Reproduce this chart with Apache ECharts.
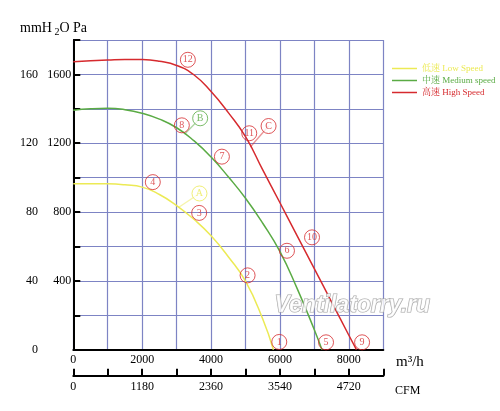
<!DOCTYPE html>
<html>
<head>
<meta charset="utf-8">
<script src="https://cdn.jsdelivr.net/npm/echarts@6/dist/echarts.min.js"></script>
<style>
  html, body { margin: 0; padding: 0; background: #fff; }
  #chart { width: 500px; height: 411px; }
</style>
</head>
<body>
<div id="chart"></div>
<script>
// flow m3/h and pressure Pa
const lowFlow = [0, 500, 1000, 1500, 2000, 2500, 3000, 3500, 4000, 4500, 5000, 5500, 5810];
const lowPa = [964, 965, 964, 958, 945, 902, 838, 758, 662, 540, 398, 178, 0];
const midFlow = [0, 500, 1000, 1500, 2000, 2500, 3000, 3500, 4000, 4500, 5000, 5500, 6000, 6500, 7000, 7220];
const midPa = [1392, 1400, 1403, 1395, 1374, 1340, 1290, 1215, 1120, 1005, 880, 735, 570, 355, 115, 0];
const highFlow = [0, 500, 1000, 1500, 2000, 2500, 3000, 3500, 4000, 4500, 5000, 5500, 6000, 6500, 7000, 7500, 8000, 8220];
const highPa = [1673, 1680, 1684, 1687, 1686, 1676, 1652, 1598, 1500, 1378, 1238, 1045, 854, 662, 470, 277, 84, 0];

// circled point markers
const markNames = ['1', '2', '3', '4', '5', '6', '7', '8', '9', '10', '11', '12'];
const markFlow = [5980, 5060, 3654, 2308, 7337, 6203, 4314, 3151, 8384, 6930, 5108, 3326];
const markPa = [45, 432, 795, 974, 43, 575, 1122, 1304, 43, 653, 1258, 1685];

// lettered curve tags and where their leader touches the curve
const tagNames = ['A', 'B', 'C'];
const tagFlow = [3663, 3683, 5669];
const tagPa = [908, 1345, 1300];
const tagEndFlow = [3052, 3230, 5140];
const tagEndPa = [826, 1252, 1178];

const xTicks = [0, 2000, 4000, 6000, 8000];
const cfmTicks = [0, 1180, 2360, 3540, 4720];

const RED = '#d62a2e';
const GREEN = '#5aab44';
const YELLOW = '#ecea55';
const BLUE = '#7d84c4';
const SERIF = '"Liberation Serif", "Noto Serif CJK SC", "Noto Sans CJK SC", serif';
const tagColors = [YELLOW, GREEN, RED];

const pairs = (xs, ys) => xs.map((x, i) => [x, ys[i]]);

const chart = echarts.init(document.getElementById('chart'));

const curve = (name, color, xs, ys) => ({
  name: name,
  type: 'line',
  smooth: 0.5,
  showSymbol: false,
  silent: true,
  data: pairs(xs, ys),
  lineStyle: { color: color, width: 1.5 },
  itemStyle: { color: color },
  z: 3
})

const option = {
  animation: false,
  backgroundColor: '#fff',
  grid: { left: 73.3, top: 40, right: 116.7, bottom: 61.3 },
  legend: {
    orient: 'vertical',
    left: 387,
    top: 59,
    itemWidth: 25,
    itemHeight: 1.5,
    itemGap: 3,
    icon: 'rect',
    textStyle: { fontFamily: SERIF, fontSize: 9 },
    data: [
      { name: '低速 Low Speed', textStyle: { color: YELLOW } },
      { name: '中速 Medium speed', textStyle: { color: GREEN } },
      { name: '高速 High Speed', textStyle: { color: RED } }
    ]
  },
  xAxis: [
    {
      type: 'value', min: 0, max: 9000, interval: 1000,
      axisLine: { lineStyle: { color: '#000', width: 2 } },
      axisTick: { show: false },
      axisLabel: {
        color: '#000', fontFamily: SERIF, fontSize: 12, margin: 4,
        formatter: v => xTicks.includes(v) ? String(v) : ''
      },
      splitLine: { show: true, lineStyle: { color: BLUE, width: 1.2 } }
    },
    {
      type: 'value', position: 'bottom', offset: 26, min: 0, max: 5310, interval: 590,
      axisLine: { onZero: false, lineStyle: { color: '#000', width: 2 } },
      axisTick: { show: true, inside: true, length: 7, lineStyle: { color: '#000', width: 2 } },
      axisLabel: {
        color: '#000', fontFamily: SERIF, fontSize: 12, margin: 5,
        formatter: v => cfmTicks.includes(v) ? String(v) : ''
      },
      splitLine: { show: false }
    }
  ],
  yAxis: [
    {
      type: 'value', min: 0, max: 1800, interval: 200,
      axisLine: { show: true, lineStyle: { color: '#000', width: 2 } },
      axisTick: { show: false },
      axisLabel: {
        color: '#000', fontFamily: SERIF, fontSize: 12, margin: 2,
        formatter: v => (v > 0 && v < 1800 && v % 400 === 0) ? String(v) : ''
      },
      splitLine: { show: true, lineStyle: { color: BLUE, width: 1.2 } }
    },
    {
      type: 'value', position: 'left', offset: 31.3, min: 0, max: 180, interval: 20,
      axisLine: { show: true, lineStyle: { color: '#000', width: 2 } },
      axisTick: { show: true, inside: true, length: 7, lineStyle: { color: '#000', width: 2 } },
      axisLabel: {
        color: '#000', fontFamily: SERIF, fontSize: 12, margin: 4,
        formatter: v => (v % 40 === 0 && v < 180) ? String(v) : ''
      },
      splitLine: { show: false }
    }
  ],
  series: [
    curve('低速 Low Speed', YELLOW, lowFlow, lowPa),
    curve('中速 Medium speed', GREEN, midFlow, midPa),
    curve('高速 High Speed', RED, highFlow, highPa),
    {
      type: 'lines',
      coordinateSystem: 'cartesian2d',
      silent: true,
      z: 4,
      data: tagNames.map((n, i) => ({
        coords: [[tagFlow[i], tagPa[i]], [tagEndFlow[i], tagEndPa[i]]],
        lineStyle: { color: tagColors[i], width: 1.3 }
      }))
    },
    {
      type: 'scatter',
      silent: true,
      symbol: 'circle',
      symbolSize: 15,
      z: 5,
      data: markNames.map((n, i) => ({ name: n, value: [markFlow[i], markPa[i]] })),
      itemStyle: { color: 'rgba(255,255,255,0)', borderColor: RED, borderWidth: 1 },
      label: {
        show: true, position: 'inside', formatter: p => p.name,
        color: RED, fontFamily: SERIF, fontSize: 10
      }
    },
    {
      type: 'scatter',
      silent: true,
      symbol: 'circle',
      symbolSize: 15,
      z: 6,
      data: tagNames.map((n, i) => ({
        name: n,
        value: [tagFlow[i], tagPa[i]],
        itemStyle: { color: '#fff', borderColor: tagColors[i], borderWidth: 1 },
        label: { color: tagColors[i] }
      })),
      label: {
        show: true, position: 'inside', formatter: p => p.name,
        fontFamily: SERIF, fontSize: 10
      }
    }
  ],
  graphic: [
    { type: 'text', left: 20, top: 21, style: { text: 'mmH', fontFamily: SERIF, fontSize: 14, fill: '#000' } },
    { type: 'text', left: 54.5, top: 27, style: { text: '2', fontFamily: SERIF, fontSize: 10, fill: '#000' } },
    { type: 'text', left: 59.5, top: 21, style: { text: 'O', fontFamily: SERIF, fontSize: 14, fill: '#000' } },
    { type: 'text', left: 73, top: 21, style: { text: 'Pa', fontFamily: SERIF, fontSize: 14, fill: '#000' } },
    { type: 'text', left: 396, top: 355, style: { text: 'm³/h', fontFamily: SERIF, fontSize: 15, fill: '#000' } },
    { type: 'text', left: 395, top: 385, style: { text: 'CFM', fontFamily: SERIF, fontSize: 12, fill: '#000' } },
    {
      type: 'text', left: 274, top: 294, z: 10,
      style: {
        text: 'Ventilatorry.ru', fontFamily: '"Liberation Sans", sans-serif',
        fontStyle: 'italic', fontWeight: 'bold', fontSize: 23,
        fill: 'rgba(255,255,255,0.8)', stroke: '#a5a5a5', lineWidth: 1.2
      }
    }
  ]
};

chart.setOption(option);
</script>
</body>
</html>
